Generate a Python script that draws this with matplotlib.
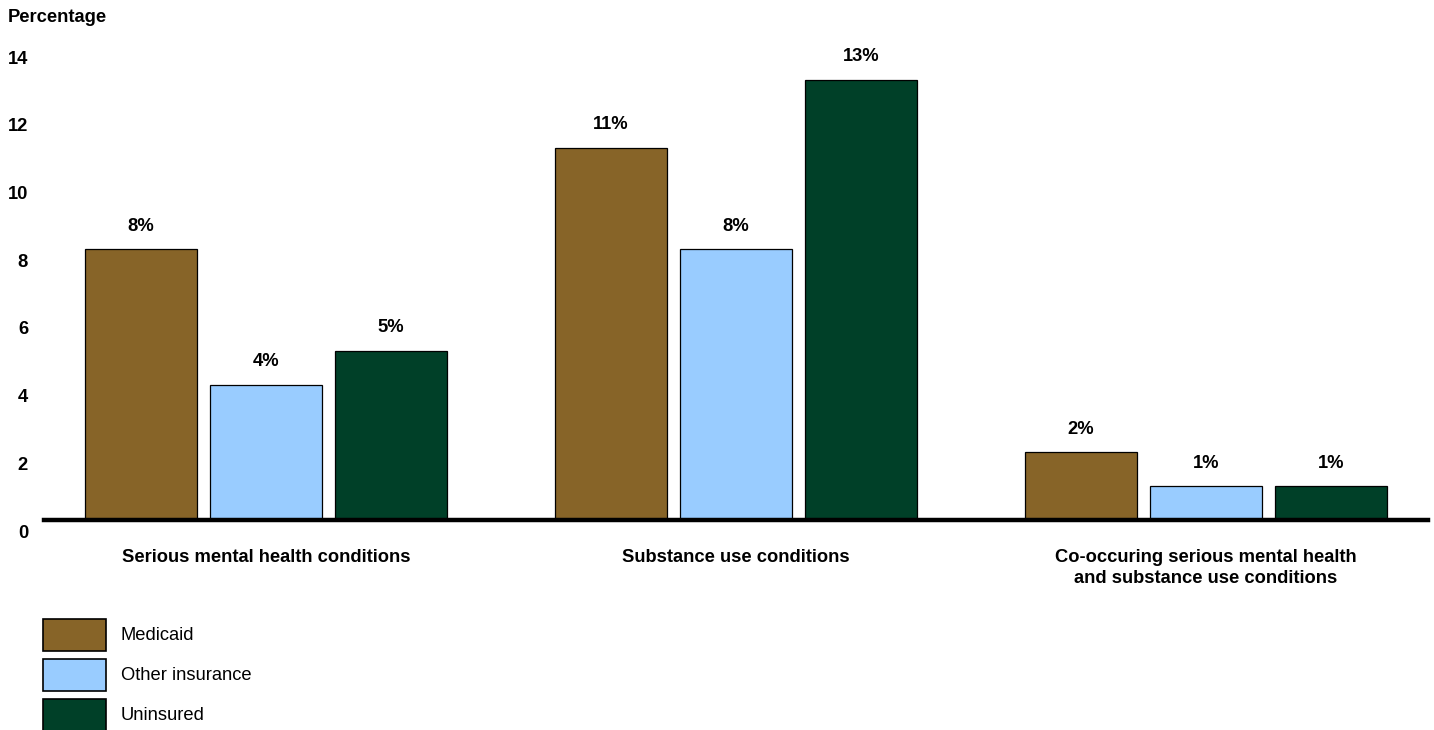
import matplotlib.pyplot as plt
import matplotlib.transforms as mtransforms
from matplotlib.patches import Rectangle
import numpy as np

plt.rcParams['font.family'] = ['Liberation Sans', 'DejaVu Sans']

# Chart data
categories = ['Serious mental health conditions',
              'Substance use conditions',
              'Co-occuring serious mental health\nand substance use conditions']
series = ['Medicaid', 'Other insurance', 'Uninsured']
medicaid = [8, 11, 2]
other_insurance = [4, 8, 1]
uninsured = [5, 13, 1]
y_ticks = [0, 2, 4, 6, 8, 10, 12, 14]

colors = ['#876428', '#99ccff', '#004028']
FS = 13.2
W, H = 1434, 730

fig = plt.figure(figsize=(W / 100, H / 100), dpi=100)
ax = fig.add_axes([44 / W, 1 - 520 / H, (1428 - 44) / W, (520 - 46) / H])

x = np.arange(len(categories))
width = 0.238
step = 0.266

for i, (vals, name) in enumerate(zip([medicaid, other_insurance, uninsured], series)):
    pos = x + (i - 1) * step
    ax.bar(pos, vals, width, color=colors[i], edgecolor='black',
           linewidth=0.9, label=name, zorder=2)
    for xp, v in zip(pos, vals):
        ax.annotate(f'{v}%', xy=(xp, v), xytext=(0, 23), textcoords='offset pixels',
                    ha='center', va='center', fontsize=FS, fontweight='bold')

ax.axhline(0, color='black', linewidth=3.2, zorder=3, clip_on=False)

ax.set_xlim(-0.4723, 2.4723)
ax.set_ylim(0, 14)
ax.set_yticks(y_ticks)
ax.set_yticklabels([str(t) for t in y_ticks], fontsize=FS, fontweight='bold')
ax.tick_params(axis='y', length=0, pad=11.5)
ax.set_xticks([])
for s in ax.spines.values():
    s.set_visible(False)

# tick labels sit a little below their value
offset = mtransforms.ScaledTranslation(0, -11 / 100, fig.dpi_scale_trans)
for lab in ax.get_yticklabels():
    lab.set_transform(lab.get_transform() + offset)

# category labels
for xi, cat in zip(x, categories):
    ax.annotate(cat, xy=(xi, 0), xytext=(0, -29), textcoords='offset pixels',
                ha='center', va='top', fontsize=FS, fontweight='bold',
                linespacing=1.32, annotation_clip=False)

fig.text(8 / W, 1 - 17 / H, 'Percentage', fontsize=FS, fontweight='bold',
         ha='left', va='center')

# legend drawn by hand
for i, name in enumerate(series):
    top = 619 + 40 * i
    fig.add_artist(Rectangle((43 / W, 1 - (top + 32) / H), 63 / W, 32 / H,
                             transform=fig.transFigure, facecolor=colors[i],
                             edgecolor='black', linewidth=1.2))
    fig.text(121 / W, 1 - (top + 16) / H, name, fontsize=FS, ha='left', va='center')

fig.savefig('out.png', dpi=100)
